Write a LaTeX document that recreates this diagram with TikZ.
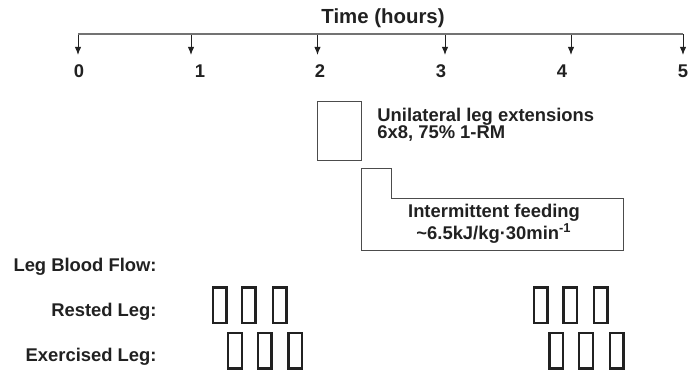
\documentclass[tikz,border=0pt]{standalone}
\usepackage{fontspec}
\setmainfont{Liberation Sans}
\usetikzlibrary{arrows.meta}
\usetikzlibrary{positioning}
\tikzset{hourarrow/.style = {-{Latex[length=4pt, width=3.2pt]}, line width=0.5pt, draw=mdark}}
\tikzset{txt/.style = {font=\bfseries\fontsize{9.2}{8.7}\selectfont, text=mdark, inner sep=0}}
\tikzset{bar/.style = {draw=mdark, line width=1.2pt, minimum width=6.8pt, minimum height=17.6pt, inner sep=0}}
\definecolor{mgray}{rgb}{0.45, 0.45, 0.45}
\definecolor{mdark}{rgb}{0.13, 0.13, 0.13}
\definecolor{mline}{rgb}{0.3, 0.3, 0.3}

\begin{document}
\begin{tikzpicture}[x=0.5pt, y=-0.5pt]
      \useasboundingbox (0, 0) rectangle (700, 373);

      \node [txt, font=\bfseries\fontsize{10.2}{12}\selectfont] (title) at (383, 18) {Time (hours)};

      \foreach \x/\lx/\h in {78/79/0, 191/200/1, 317.5/320/2, 445/441/3, 571/562/4, 683/683/5} {
        \coordinate (t\h) at (\x, 34);
        \coordinate (a\h) at (\x, 55);
        \node [txt] (h\h) at (\lx, 71) {\h};
        \draw [hourarrow] (t\h) -- (a\h);
      }
      \draw [mgray, line width=1pt] (t0) -- (t5);

      \node [draw=mline, line width=0.5pt, minimum width=22pt, minimum height=29.8pt, inner sep=0] (ext) at (339.5, 131) {};
      \node [txt, anchor=west, align=left] (extlabel) at (377, 125) {Unilateral leg extensions\\6x8, 75\% 1-RM};

      \draw [mline, line width=0.5pt] (361.7, 168.3) -- (391, 168.3) -- (391, 198.3) -- (623.3, 198.3) -- (623.3, 251) -- (361.7, 251) -- cycle;
      \node [txt, align=center, font=\bfseries\fontsize{9.2}{9.1}\selectfont] (feed) at (494, 224) {Intermittent feeding\\\textasciitilde6.5kJ/kg·30min\textsuperscript{-1}};

      \node [txt, anchor=east] (flow) at (157, 267) {Leg Blood Flow:};
      \node [txt, anchor=east] (rested) at (157, 312) {Rested Leg:};
      \node [txt, anchor=east] (exer) at (157, 357) {Exercised Leg:};

      \foreach \x [count=\i] in {219.5, 248.7, 279.7, 540.7, 570.3, 600.8}
        \node [bar] (r\i) at (\x, 305.3) {};
      \foreach \x [count=\i] in {235, 264.7, 295.3, 556.3, 586, 616.5}
        \node [bar] (e\i) at (\x, 350.8) {};
    \end{tikzpicture}
\end{document}
